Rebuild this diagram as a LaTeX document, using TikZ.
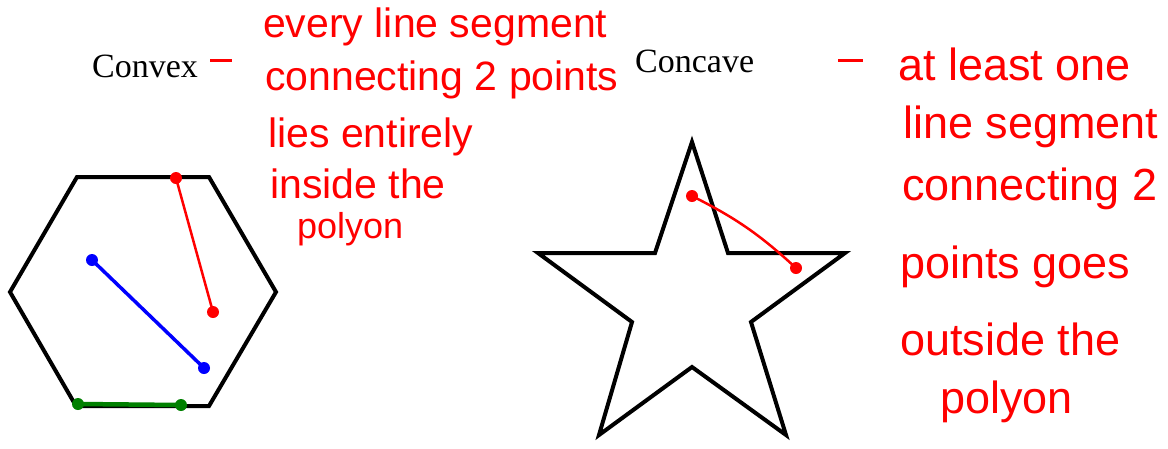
\documentclass[tikz,border=0pt]{standalone}
\usepackage{fontspec}
\setmainfont{Liberation Serif}
\newfontfamily\handfont{Liberation Sans}
\usepackage{tikz}
\usetikzlibrary{positioning}
\usepackage{xcolor}

\begin{document}
\begin{tikzpicture}[
      x=1pt, y=-1pt,
      poly/.style={draw=black, line width=4pt, line join=miter},
      seg/.style={line width=3.5pt, line cap=round},
      dotpt/.style={circle, inner sep=0pt, minimum size=12pt},
      title/.style={anchor=base west, inner sep=0pt, font=\fontsize{34}{40}\selectfont},
      note/.style={anchor=base west, inner sep=0pt, text=red, font=\handfont\fontsize{41}{44}\selectfont},
      smallnote/.style={note, font=\handfont\fontsize{36}{40}\selectfont},
      bignote/.style={note, font=\handfont\fontsize{45}{48}\selectfont},
      dashmark/.style={draw=red, line width=3pt}
  ]
    \useasboundingbox (0,0) rectangle (1168,448);

    % --- Titles ---
    \node[title] (convex) at (92,77) {Convex};
    \node[title] (concave) at (635,72) {Concave};
    \coordinate (d1a) at (210,60); \coordinate (d1b) at (232,60);
    \coordinate (d2a) at (838,60); \coordinate (d2b) at (863,60);
    \draw[dashmark] (d1a) -- (d1b);
    \draw[dashmark] (d2a) -- (d2b);

    % --- Notes (convex) ---
    \node[note] (cv1) at (263,37)  {every line segment};
    \node[note] (cv2) at (265,90)  {connecting 2 points};
    \node[note] (cv3) at (268,147) {lies entirely};
    \node[note] (cv4) at (270,198) {inside the};
    \node[smallnote] (cv5) at (297,238) {polyon};

    % --- Notes (concave) ---
    \node[bignote] (cc1) at (898,80)  {at least one};
    \node[bignote] (cc2) at (903,138) {line segment};
    \node[bignote] (cc3) at (902,200) {connecting 2};
    \node[bignote] (cc4) at (900,278) {points goes};
    \node[bignote] (cc5) at (900,355) {outside the};
    \node[bignote] (cc6) at (940,413) {polyon};

    % --- Hexagon ---
    \coordinate (h1) at (77,177);
    \coordinate (h2) at (209,177);
    \coordinate (h3) at (276,292);
    \coordinate (h4) at (209,406);
    \coordinate (h5) at (76,406);
    \coordinate (h6) at (10,292);
    \draw[poly] (h1) -- (h2) -- (h3) -- (h4) -- (h5) -- (h6) -- cycle;

    % --- Segments inside the hexagon ---
    \node[dotpt, fill=red]   (r1) at (176,178) {};
    \node[dotpt, fill=red]   (r2) at (213,312) {};
    \node[dotpt, fill=blue]  (b1) at (92,260)  {};
    \node[dotpt, fill=blue]  (b2) at (204,368) {};
    \node[dotpt, fill=green!50!black] (g1) at (78,404)  {};
    \node[dotpt, fill=green!50!black] (g2) at (181,405) {};
    \draw[seg, red, line width=2.5pt] (r1.center) -- (r2.center);
    \draw[seg, blue] (b1.center) -- (b2.center);
    \draw[seg, green!50!black, line width=4.5pt] (g1.center) -- (g2.center);

    % --- Star ---
    \coordinate (s1) at (692,142);
    \coordinate (s2) at (728,253);
    \coordinate (s3) at (845,253);
    \coordinate (s4) at (751,322);
    \coordinate (s5) at (786,435);
    \coordinate (s6) at (692,367);
    \coordinate (s7) at (599,435);
    \coordinate (s8) at (632,322);
    \coordinate (s9) at (538,253);
    \coordinate (s10) at (655,253);
    \draw[poly] (s1) -- (s2) -- (s3) -- (s4) -- (s5) -- (s6) -- (s7)
      -- (s8) -- (s9) -- (s10) -- cycle;

    % --- Segment leaving the star ---
    \node[dotpt, fill=red] (t1) at (692,196) {};
    \node[dotpt, fill=red] (t2) at (796,268) {};
    \draw[seg, red, line width=2.5pt] (t1.center) to[bend left=8] (t2.center);

  \end{tikzpicture}
\end{document}
